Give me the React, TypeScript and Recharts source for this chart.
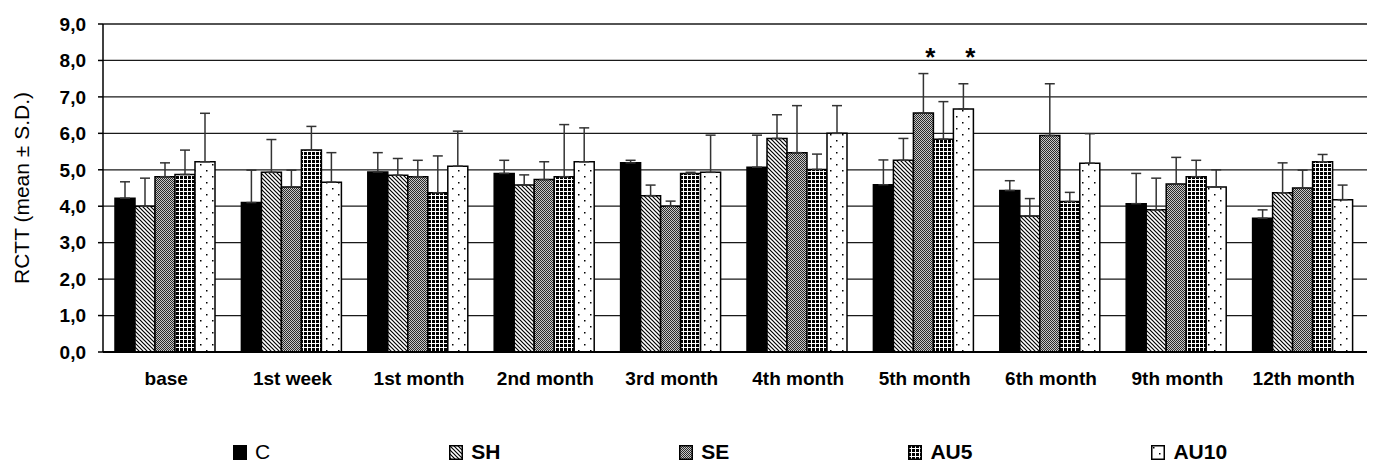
import React from "react";
import {
  BarChart,
  Bar,
  XAxis,
  YAxis,
  CartesianGrid,
  ErrorBar,
  LabelList,
  Legend,
} from "recharts";

const CATEGORIES = [
  "base",
  "1st week",
  "1st month",
  "2nd month",
  "3rd month",
  "4th month",
  "5th month",
  "6th month",
  "9th month",
  "12th month",
];

const SERIES = ["C", "SH", "SE", "AU5", "AU10"];

// means
const C_MEAN = [4.22, 4.1, 4.94, 4.9, 5.19, 5.07, 4.59, 4.43, 4.07, 3.67];
const SH_MEAN = [4.0, 4.93, 4.85, 4.58, 4.29, 5.86, 5.26, 3.73, 3.9, 4.37];
const SE_MEAN = [4.81, 4.53, 4.81, 4.73, 4.0, 5.47, 6.56, 5.94, 4.61, 4.5];
const AU5_MEAN = [4.87, 5.54, 4.37, 4.81, 4.9, 5.01, 5.84, 4.13, 4.81, 5.22];
const AU10_MEAN = [5.22, 4.66, 5.1, 5.22, 4.93, 6.0, 6.67, 5.18, 4.53, 4.18];

// standard deviations (drawn upward only)
const C_SD = [0.45, 0.89, 0.53, 0.36, 0.07, 0.88, 0.68, 0.27, 0.83, 0.23];
const SH_SD = [0.77, 0.9, 0.46, 0.28, 0.29, 0.65, 0.6, 0.48, 0.87, 0.82];
const SE_SD = [0.38, 0.46, 0.45, 0.49, 0.14, 1.29, 1.08, 1.42, 0.73, 0.49];
const AU5_SD = [0.67, 0.65, 1.01, 1.43, 0.03, 0.42, 1.03, 0.25, 0.45, 0.2];
const AU10_SD = [1.33, 0.81, 0.96, 0.93, 1.02, 0.76, 0.69, 0.81, 0.47, 0.4];

const Y_TICKS = [0, 1, 2, 3, 4, 5, 6, 7, 8, 9];
const EDGE_TICKS = [0, 1, 2, 3, 4, 5, 6, 7, 8, 9, 10];

// groups marked with an asterisk
const SIGNIFICANT: Record<string, string[]> = {
  SE: ["5th month"],
  AU10: ["5th month"],
};
const STAR_LEVEL = 7.85;

const MEANS: Record<string, number[]> = {
  C: C_MEAN,
  SH: SH_MEAN,
  SE: SE_MEAN,
  AU5: AU5_MEAN,
  AU10: AU10_MEAN,
};
const SDS: Record<string, number[]> = {
  C: C_SD,
  SH: SH_SD,
  SE: SE_SD,
  AU5: AU5_SD,
  AU10: AU10_SD,
};

const data = CATEGORIES.map((name, i) => {
  const row: Record<string, any> = { name };
  SERIES.forEach((s) => {
    row[s] = MEANS[s][i];
    row[`${s}_err`] = [0, SDS[s][i]];
    row[`${s}_sig`] = (SIGNIFICANT[s] || []).includes(name) ? 1 : 0;
  });
  return row;
});

const FILLS: Record<string, string> = {
  C: "#000000",
  SH: "url(#pat-sh)",
  SE: "url(#pat-se)",
  AU5: "url(#pat-au5)",
  AU10: "url(#pat-au10)",
};

const FONT = '"Liberation Sans", Arial, sans-serif';

const Star = (props: any) => {
  const { x, y, width, height, value } = props;
  if (!value) return null;
  const pxPerUnit = height / (props.mean || 1);
  const base = y + height;
  return (
    <text
      x={x + width / 2 + width * 0.35}
      y={base - STAR_LEVEL * pxPerUnit}
      textAnchor="middle"
      fontFamily={FONT}
      fontWeight="bold"
      fontSize={26}
      fill="#000"
    >
      *
    </text>
  );
};

const LegendContent = () => (
  <div
    style={{
      display: "flex",
      alignItems: "center",
      paddingLeft: 233,
      gap: 179,
      fontFamily: FONT,
      fontSize: 21,
      lineHeight: "22px",
      color: "#000",
    }}
  >
    {SERIES.map((s) => (
      <div key={s} style={{ display: "flex", alignItems: "center" }}>
        <svg width={14} height={15} style={{ marginRight: 8 }}>
          <rect
            x={0.75}
            y={0.75}
            width={12.5}
            height={13.5}
            fill={FILLS[s]}
            stroke="#000"
            strokeWidth={1.5}
          />
        </svg>
        <span style={{ fontWeight: s === "C" ? "normal" : "bold" }}>{s}</span>
      </div>
    ))}
  </div>
);

export default function App() {
  return (
    <div style={{ position: "absolute", left: 0, top: 0, background: "#fff" }}>
      <BarChart
        width={1375}
        height={465}
        data={data}
        margin={{ top: 24, right: 8, bottom: 0, left: 0 }}
        barCategoryGap={12}
        barGap={0}
      >
        <defs>
          <pattern id="pat-sh" patternUnits="userSpaceOnUse" width={4} height={4}>
            <rect width={4} height={4} fill="#fff" />
            <path d="M-1,-1 L5,5 M-1,3 L1,5 M3,-1 L5,1" stroke="#000" strokeWidth={1.2} />
          </pattern>
          <pattern id="pat-se" patternUnits="userSpaceOnUse" width={2} height={2}>
            <rect width={2} height={2} fill="#c8c8c8" />
            <rect width={1} height={1} fill="#2a2a2a" />
            <rect x={1} y={1} width={1} height={1} fill="#2a2a2a" />
          </pattern>
          <pattern id="pat-au5" patternUnits="userSpaceOnUse" width={4} height={4}>
            <rect width={4} height={4} fill="#000" />
            <rect x={3} width={1} height={4} fill="#fff" />
            <rect y={3} width={4} height={1} fill="#fff" />
          </pattern>
          <pattern id="pat-au10" patternUnits="userSpaceOnUse" width={12} height={12}>
            <rect width={12} height={12} fill="#fff" />
            <rect x={2} y={2} width={1.5} height={1.5} fill="#000" />
            <rect x={8} y={8} width={1.5} height={1.5} fill="#000" />
          </pattern>
        </defs>
        <CartesianGrid vertical={false} stroke="#1a1a1a" strokeWidth={1.3} />
        <XAxis
          dataKey="name"
          height={50}
          tickLine={false}
          tickMargin={14}
          axisLine={{ stroke: "#000", strokeWidth: 2 }}
          tick={{ fill: "#000", fontFamily: FONT, fontWeight: "bold", fontSize: 19 }}
          interval={0}
        />
        <XAxis
          xAxisId="edges"
          type="number"
          domain={[0, 10]}
          ticks={EDGE_TICKS}
          allowDataOverflow
          mirror
          height={0}
          axisLine={false}
          tickSize={5}
          tickLine={{ stroke: "#000", strokeWidth: 1.5 }}
          tick={() => <g />}
        />
        <YAxis
          width={103}
          domain={[0, 9]}
          ticks={Y_TICKS}
          interval={0}
          tickSize={5}
          tickMargin={12}
          tickLine={{ stroke: "#000", strokeWidth: 1.5 }}
          axisLine={{ stroke: "#000", strokeWidth: 1.5 }}
          tick={{ fill: "#000", fontFamily: FONT, fontWeight: "bold", fontSize: 19 }}
          tickFormatter={(v: number) => v.toFixed(1).replace(".", ",")}
          label={{
            value: "RCTT (mean ± S.D.)",
            angle: -90,
            position: "insideLeft",
            offset: 22,
            style: {
              textAnchor: "middle",
              fontFamily: FONT,
              fontSize: 21,
              fill: "#000",
            },
          }}
        />
        <Legend
          verticalAlign="bottom"
          height={63}
          wrapperStyle={{ top: 441, left: 0, width: 1375 }}
          content={<LegendContent />}
        />
        {SERIES.map((s) => (
          <Bar
            key={s}
            dataKey={s}
            fill={FILLS[s]}
            stroke="#000"
            strokeWidth={1.5}
            isAnimationActive={false}
          >
            <ErrorBar
              dataKey={`${s}_err`}
              direction="y"
              width={5}
              stroke="#333"
              strokeWidth={1.5}
            />
            <LabelList
              dataKey={`${s}_sig`}
              content={(p: any) => (
                <Star {...p} mean={data[p.index]?.[s]} />
              )}
            />
          </Bar>
        ))}
      </BarChart>
    </div>
  );
}
